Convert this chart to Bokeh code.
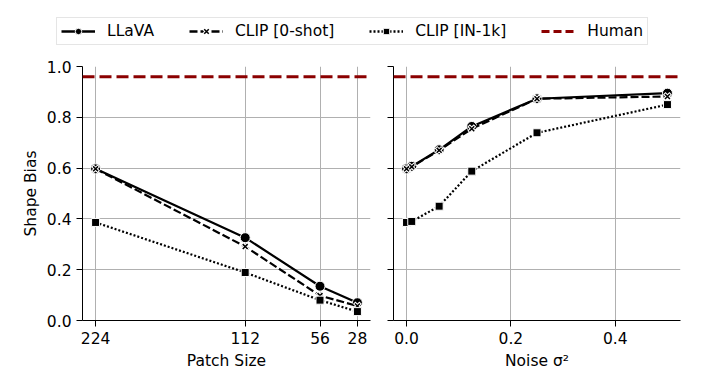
from bokeh.plotting import figure
from bokeh.layouts import column, row
from bokeh.models import (Range1d, FixedTicker, Span, Legend, LegendItem,
                          ColumnDataSource, CustomJSTickFormatter, NumeralTickFormatter)
from bokeh.embed import file_html
from bokeh.resources import INLINE

# ---------------- data ----------------
patch_sizes = [224, 112, 56, 28]
llava_patch = [0.597, 0.326, 0.135, 0.070]
clip0_patch = [0.597, 0.291, 0.098, 0.057]
clipin_patch = [0.386, 0.189, 0.080, 0.035]

noise_levels = [0.0, 0.01, 0.0625, 0.125, 0.25, 0.5]
llava_noise = [0.597, 0.607, 0.672, 0.764, 0.873, 0.895]
clip0_noise = [0.597, 0.605, 0.670, 0.755, 0.873, 0.882]
clipin_noise = [0.386, 0.390, 0.450, 0.588, 0.739, 0.850]

human_bias = 0.96

series_names = ["LLaVA", "CLIP [0-shot]", "CLIP [IN-1k]", "Human"]
y_ticks = [0.0, 0.2, 0.4, 0.6, 0.8, 1.0]
noise_ticks = [0.0, 0.2, 0.4]

FONT = "DejaVu Sans"
FS = "15.5px"
HUMAN_COLOR = "#8b0000"
GRID = "#b0b0b0"


def style_axes(p):
    p.outline_line_color = None
    for ax in (p.xaxis[0], p.yaxis[0]):
        ax.axis_line_color = "black"
        ax.axis_line_width = 1
        ax.major_tick_line_color = "black"
        ax.major_tick_out = 6
        ax.major_tick_in = 0
        ax.minor_tick_line_color = None
        ax.major_label_text_font = FONT
        ax.major_label_text_font_size = FS
        ax.major_label_text_color = "black"
        ax.major_label_standoff = 5
        ax.axis_label_text_font = FONT
        ax.axis_label_text_font_size = FS
        ax.axis_label_text_font_style = "normal"
        ax.axis_label_text_color = "black"
    p.xgrid.grid_line_color = GRID
    p.ygrid.grid_line_color = GRID
    p.xgrid.grid_line_width = 1
    p.ygrid.grid_line_width = 1


def draw_series(p, xs, ys_llava, ys_clip0, ys_clipin):
    p.line(xs, ys_llava, line_color="black", line_width=2.2)
    p.scatter(xs, ys_llava, marker="circle", size=10, fill_color="black",
              line_color="white", line_width=1)
    p.line(xs, ys_clip0, line_color="black", line_width=2.2, line_dash="8 3")
    p.scatter(xs, ys_clip0, marker="x", size=9, line_color="white", line_width=3.5)
    p.scatter(xs, ys_clip0, marker="x", size=7, line_color="black", line_width=1.5)
    p.line(xs, ys_clipin, line_color="black", line_width=2.2, line_dash="2 2")
    p.scatter(xs, ys_clipin, marker="square", size=8, fill_color="black",
              line_color="white", line_width=1)
    p.add_layout(Span(location=human_bias, dimension="width", line_color=HUMAN_COLOR,
                      line_width=3, line_dash="12 5"))


# ---------------- left panel: patch size ----------------
p1 = figure(frame_width=288, frame_height=254, output_backend="svg", toolbar_location=None,
            x_range=Range1d(233.8, 18.2), y_range=Range1d(0, 1),
            min_border_left=82, min_border_right=11, min_border_top=8, min_border_bottom=52)
style_axes(p1)
p1.xaxis.ticker = FixedTicker(ticks=patch_sizes)
p1.yaxis.ticker = FixedTicker(ticks=y_ticks)
p1.yaxis.formatter = NumeralTickFormatter(format="0.0")
p1.xaxis.axis_label = "Patch Size"
p1.yaxis.axis_label = "Shape Bias"
p1.xaxis.axis_label_standoff = 5
p1.yaxis.axis_label_standoff = 4
draw_series(p1, patch_sizes, llava_patch, clip0_patch, clipin_patch)

# ---------------- right panel: noise ----------------
p2 = figure(frame_width=287, frame_height=254, output_backend="svg", toolbar_location=None,
            x_range=Range1d(-0.025, 0.525), y_range=Range1d(0, 1),
            min_border_left=12, min_border_right=10, min_border_top=8, min_border_bottom=52)
style_axes(p2)
p2.xaxis.ticker = FixedTicker(ticks=noise_ticks)
p2.xaxis.formatter = NumeralTickFormatter(format="0.0")
p2.yaxis.ticker = FixedTicker(ticks=y_ticks)
p2.yaxis.formatter = CustomJSTickFormatter(code="return '';")
p2.yaxis.major_label_standoff = 0
p2.xaxis.axis_label = "Noise σ²"
p2.xaxis.axis_label_standoff = 5
draw_series(p2, noise_levels, llava_noise, clip0_noise, clipin_noise)

# ---------------- legend strip ----------------
pl = figure(width=690, height=58, output_backend="svg", toolbar_location=None,
            x_range=Range1d(0, 1), y_range=Range1d(0, 1),
            x_axis_type=None, y_axis_type=None,
            min_border_left=0, min_border_right=0, min_border_top=0, min_border_bottom=0)
pl.outline_line_color = None
pl.grid.visible = False
nan = float("nan")
placeholder = ColumnDataSource(data=dict(x=[nan], y=[nan]))
l1 = pl.line("x", "y", source=placeholder, line_color="black", line_width=2.5)
m1 = pl.scatter("x", "y", source=placeholder, marker="circle", size=9, fill_color="black",
                line_color="white", line_width=1)
l2 = pl.line("x", "y", source=placeholder, line_color="black", line_width=2.5, line_dash="8 3")
m2w = pl.scatter("x", "y", source=placeholder, marker="x", size=9, line_color="white",
                 line_width=3.5)
m2 = pl.scatter("x", "y", source=placeholder, marker="x", size=7, line_color="black",
                line_width=1.5)
l3 = pl.line("x", "y", source=placeholder, line_color="black", line_width=2.5, line_dash="2 2")
m3 = pl.scatter("x", "y", source=placeholder, marker="square", size=8, fill_color="black",
                line_color="white", line_width=1)
l4 = pl.line("x", "y", source=placeholder, line_color=HUMAN_COLOR, line_width=3,
             line_dash="8 4")

legend = Legend(items=[
    LegendItem(label=series_names[0], renderers=[l1, m1]),
    LegendItem(label=series_names[1], renderers=[l2, m2w, m2]),
    LegendItem(label=series_names[2], renderers=[l3, m3]),
    LegendItem(label=series_names[3], renderers=[l4]),
], orientation="horizontal", location=(56, 13), margin=0, padding=4, spacing=35,
    label_standoff=12, glyph_width=34, glyph_height=16,
    label_text_font=FONT, label_text_font_size=FS, label_text_color="black",
    label_text_baseline="middle",
    border_line_color="#cccccc", border_line_width=1, background_fill_color="white")
pl.add_layout(legend, "center")

layout = column(pl, row(p1, p2))
open("out.html", "w").write(file_html(layout, INLINE))
